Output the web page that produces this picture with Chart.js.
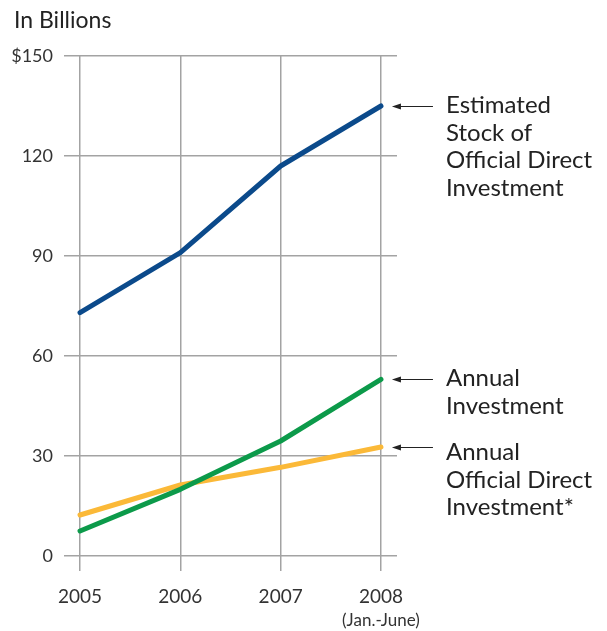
<!DOCTYPE html>
<html lang="en">
<head>
  <meta charset="UTF-8">
  <script src="https://cdn.jsdelivr.net/npm/chart.js"></script>
  <style>
    body, html {
      margin: 0;
      padding: 0;
      background: #fff;
    }
    .chart-box {
      position: relative;
      width: 607px;
      height: 631px;
    }
  </style>
</head>
<body>
  <div class="chart-box">
    <canvas id="investment-chart"></canvas>
  </div>
  <script>
    const years = [2005, 2006, 2007, 2008];
    const stockValues = [73, 91, 117, 135];
    const annualValues = [7.5, 20, 34.5, 53];
    const officialValues = [12.3, 21.3, 26.6, 32.7];
    const yTicks = [0, 30, 60, 90, 120, 150];

    const FONT = 'Lato, "Open Sans", sans-serif';

    // labels on the right, each with an arrow pointing at the end of its line
    const seriesNotes = [
      { lines: ['Estimated', 'Stock of', 'Official Direct', 'Investment'], textY: 113 },
      { lines: ['Annual', 'Investment'], textY: 386 },
      { lines: ['Annual', 'Official Direct', 'Investment*'], textY: 460 }
    ];

    const notesPlugin = {
      id: 'notes',
      afterDraw(chart) {
        const ctx = chart.ctx;
        const xs = chart.scales.x;
        ctx.save();

        ctx.fillStyle = '#222';
        ctx.font = '23px ' + FONT;
        ctx.textBaseline = 'alphabetic';
        ctx.textAlign = 'left';
        ctx.fillText('In Billions', 14, 28);

        ctx.font = '17px ' + FONT;
        ctx.textAlign = 'center';
        ctx.fillStyle = '#333';
        ctx.fillText('(Jan.-June)', xs.getPixelForValue(2008), 626);

        chart.data.datasets.forEach((ds, i) => {
          const meta = chart.getDatasetMeta(i);
          const last = meta.data[meta.data.length - 1];
          const ay = Math.round(last.y) + 0.5;
          const x0 = last.x + 11;
          const x1 = last.x + 52;
          ctx.strokeStyle = '#222';
          ctx.fillStyle = '#222';
          ctx.lineWidth = 1.2;
          ctx.beginPath();
          ctx.moveTo(x0 + 6, ay);
          ctx.lineTo(x1, ay);
          ctx.stroke();
          ctx.beginPath();
          ctx.moveTo(x0, ay);
          ctx.lineTo(x0 + 9, ay - 3);
          ctx.lineTo(x0 + 9, ay + 3);
          ctx.closePath();
          ctx.fill();

          const note = seriesNotes[i];
          ctx.font = '24px ' + FONT;
          ctx.textAlign = 'left';
          ctx.fillStyle = '#222';
          note.lines.forEach((t, j) => {
            ctx.fillText(t, 446, note.textY + j * 27.5);
          });
        });
        ctx.restore();
      }
    };

    const lineStyle = {
      borderWidth: 5,
      pointRadius: 0,
      borderCapStyle: 'round',
      borderJoinStyle: 'round',
      tension: 0,
      fill: false
    };

    new Chart(document.getElementById('investment-chart'), {
      type: 'line',
      data: {
        datasets: [
          Object.assign({ label: 'Estimated Stock of Official Direct Investment', borderColor: '#0b4a8b',
            data: years.map((y, i) => ({ x: y, y: stockValues[i] })) }, lineStyle),
          Object.assign({ label: 'Annual Investment', borderColor: '#0c9a4a',
            data: years.map((y, i) => ({ x: y, y: annualValues[i] })) }, lineStyle),
          Object.assign({ label: 'Annual Official Direct Investment*', borderColor: '#fbb938',
            data: years.map((y, i) => ({ x: y, y: officialValues[i] })) }, lineStyle)
        ]
      },
      options: {
        responsive: true,
        maintainAspectRatio: false,
        animation: false,
        layout: { padding: { top: 56, left: 0, right: 210, bottom: 0 } },
        plugins: {
          legend: { display: false },
          tooltip: { enabled: false }
        },
        scales: {
          x: {
            type: 'linear',
            min: 2004.84,
            max: 2008.16,
            afterBuildTicks(axis) {
              axis.ticks = years.map(v => ({ value: v }));
            },
            afterFit(axis) { axis.height = 75; },
            border: { display: false },
            grid: {
              color: '#a3a3a3',
              lineWidth: 1.5,
              drawTicks: true,
              tickLength: 15
            },
            ticks: {
              padding: 14,
              color: '#333',
              font: { family: FONT, size: 19 },
              callback: v => String(v),
              maxRotation: 0
            }
          },
          y: {
            min: 0,
            max: 150,
            afterBuildTicks(axis) {
              axis.ticks = yTicks.map(v => ({ value: v }));
            },
            afterFit(axis) { axis.width = 64; },
            border: { display: false },
            grid: {
              color: '#a3a3a3',
              lineWidth: 1.5,
              drawTicks: false
            },
            ticks: {
              padding: 11,
              color: '#333',
              font: { family: FONT, size: 18 },
              callback: v => (v === 150 ? '$' + v : String(v))
            }
          }
        }
      },
      plugins: [notesPlugin]
    });
  </script>
</body>
</html>
